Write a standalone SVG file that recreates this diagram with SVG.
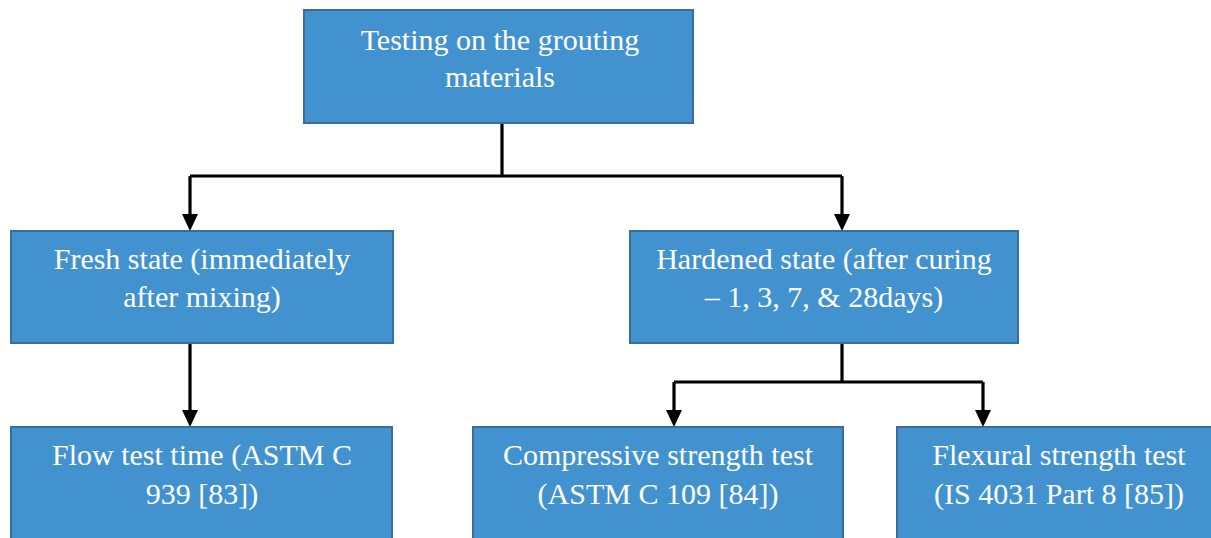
<svg xmlns="http://www.w3.org/2000/svg" width="1211" height="538" viewBox="0 0 1211 538">
<defs>
<style>
.box{fill:#4392d0;stroke:#3a6c9c;stroke-width:2}
.t{font-family:"Liberation Serif","Times New Roman",serif;font-size:30px;fill:#ffffff;text-anchor:middle}
.c{fill:none;stroke:#000;stroke-width:3.2;stroke-linejoin:miter}
.ah{fill:#000}
</style>
</defs>
<rect width="1211" height="538" fill="#ffffff"/>
<g id="connectors">
<path class="c" d="M502,123 L502,176"/>
<path class="c" d="M190,176 L842,176"/>
<path class="c" d="M190,176 L190,216"/>
<path class="c" d="M842,176 L842,216"/>
<path class="c" d="M190,343 L190,412"/>
<path class="c" d="M842,343 L842,382"/>
<path class="c" d="M674,382 L983,382"/>
<path class="c" d="M674,382 L674,412"/>
<path class="c" d="M983,382 L983,412"/>
<polygon class="ah" points="182,214 198,214 190,231"/>
<polygon class="ah" points="834,214 850,214 842,231"/>
<polygon class="ah" points="182,410 198,410 190,427"/>
<polygon class="ah" points="666,410 682,410 674,427"/>
<polygon class="ah" points="975,410 991,410 983,427"/>
</g>
<g id="root">
<rect class="box" x="304" y="10" width="389" height="113"/>
<text class="t" x="500" y="50">Testing on the grouting</text>
<text class="t" x="500" y="87">materials</text>
</g>
<g id="fresh">
<rect class="box" x="11" y="231" width="382" height="112"/>
<text class="t" x="202" y="269">Fresh state (immediately</text>
<text class="t" x="202" y="307">after mixing)</text>
</g>
<g id="hardened">
<rect class="box" x="630" y="231" width="388" height="112"/>
<text class="t" x="824" y="269">Hardened state (after curing</text>
<text class="t" x="824" y="307">– 1, 3, 7, &amp; 28days)</text>
</g>
<g id="flow">
<rect class="box" x="11" y="427" width="381" height="120"/>
<text class="t" x="202" y="465">Flow test time (ASTM C</text>
<text class="t" x="202" y="504">939 [83])</text>
</g>
<g id="compressive">
<rect class="box" x="473" y="427" width="370" height="120"/>
<text class="t" x="658" y="465">Compressive strength test</text>
<text class="t" x="658" y="504">(ASTM C 109 [84])</text>
</g>
<g id="flexural">
<rect class="box" x="897" y="427" width="320" height="120"/>
<text class="t" x="1059" y="465">Flexural strength test</text>
<text class="t" x="1059" y="504">(IS 4031 Part 8 [85])</text>
</g>
</svg>
